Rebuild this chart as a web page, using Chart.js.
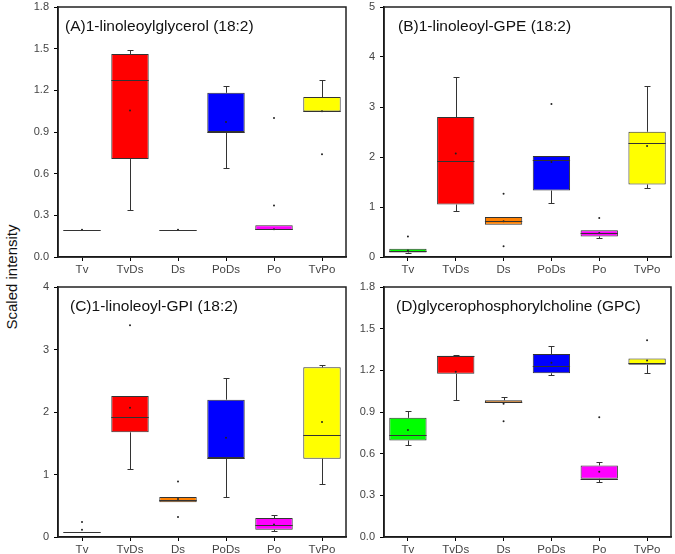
<!DOCTYPE html>
<html>
<head>
<meta charset="utf-8">
<script src="https://cdn.jsdelivr.net/npm/chart.js@4.4.0/dist/chart.umd.min.js"></script>
<style>
body{margin:0;background:#fff;width:675px;height:554px;position:relative;overflow:hidden;font-family:Arial,"Liberation Sans",sans-serif;}
canvas{position:absolute;}
#ylab{position:absolute;left:11px;top:277px;transform:translate(-50%,-50%) rotate(-90deg);font-size:15px;white-space:nowrap;color:#111;}
</style>
</head>
<body>
<div id="ylab">Scaled intensity</div>
<canvas id="cA" width="332" height="280" style="left:18px;top:0"></canvas>
<canvas id="cB" width="325" height="280" style="left:350px;top:0"></canvas>
<canvas id="cC" width="332" height="274" style="left:18px;top:280px"></canvas>
<canvas id="cD" width="325" height="274" style="left:350px;top:280px"></canvas>
<script>
const groups = ["Tv", "TvDs", "Ds", "PoDs", "Po", "TvPo"];
const boxColors = ["#00ff00", "#ff0000", "#ff8000", "#0000ff", "#ff00ff", "#ffff00"];

// (A) 1-linoleoylglycerol
const aQ1   = [0.195, 0.705, 0.195, 0.900, 0.195, 1.048];
const aMed  = [0.195, 1.273, 0.195, 0.900, 0.200, 1.050];
const aQ3   = [0.195, 1.462, 0.195, 1.182, 0.228, 1.152];
const aLow  = [null, 0.340, null, 0.640, null, null];
const aHigh = [null, 1.490, null, 1.228, null, 1.273];
const aMean = [0.197, 1.055, 0.197, 0.972, 0.200, 1.050];
const aOut  = [[], [], [], [], [1.0, 0.37], [0.74]];

// (B) 1-linoleoyl-GPE
const bQ1   = [0.090, 1.050, 0.645, 1.330, 0.410, 1.450];
const bMed  = [0.130, 1.930, 0.720, 1.940, 0.480, 2.280];
const bQ3   = [0.165, 2.800, 0.800, 2.020, 0.535, 2.505];
const bLow  = [0.080, 0.930, null, 1.090, 0.390, 1.385];
const bHigh = [null, 3.600, null, null, null, 3.410];
const bMean = [0.130, 2.070, 0.715, 1.900, 0.480, 2.220];
const bOut  = [[0.41], [], [1.265, 0.213], [3.06], [0.78], []];

// (C) 1-linoleoyl-GPI
const cQ1   = [0.085, 1.675, 0.555, 1.264, 0.117, 1.253];
const cMed  = [0.085, 1.925, 0.600, 1.264, 0.190, 1.637];
const cQ3   = [0.085, 2.256, 0.640, 2.197, 0.304, 2.715];
const cLow  = [null, 1.093, null, 0.640, 0.090, 0.848];
const cHigh = [null, null, null, 2.540, 0.350, 2.747];
const cMean = [0.117, 2.070, 0.610, 1.590, 0.200, 1.840];
const cOut  = [[0.24], [3.387], [0.89, 0.32], [], [], []];

// (D) glycerophosphorylcholine
const dQ1   = [0.695, 1.175, 0.967, 1.179, 0.419, 1.241];
const dMed  = [0.738, 1.305, 0.975, 1.229, 0.420, 1.250];
const dQ3   = [0.858, 1.305, 0.985, 1.318, 0.515, 1.285];
const dLow  = [0.661, 0.987, null, 1.165, 0.395, 1.179];
const dHigh = [0.906, 1.310, 1.006, 1.373, 0.540, null];
const dMean = [0.771, 1.190, 0.960, 1.255, 0.470, 1.270];
const dOut  = [[], [], [0.834], [], [0.863], [1.416]];

function makePanel(id, title, titleDx, yMax, step, dec, q1, med, q3, lo, hi, mean, outl, yW, xH) {
  const boxes = q1.map((v, i) => [v, q3[i]]);
  const pts = [];
  mean.forEach((v, i) => pts.push({x: groups[i], y: v}));
  outl.forEach((arr, i) => arr.forEach(v => pts.push({x: groups[i], y: v})));

  const boxPlugin = {
    id: "boxExtras",
    afterDatasetsDraw(chart) {
      const ctx = chart.ctx;
      const xs = chart.scales.x, ys = chart.scales.y;
      const bars = chart.getDatasetMeta(0).data;
      ctx.save();
      ctx.strokeStyle = "#333";
      ctx.lineWidth = 1;
      bars.forEach((bar, i) => {
        const cx = Math.round(xs.getPixelForValue(i)) + 0.5;
        const half = bar.width / 2;
        // whiskers with caps
        [[lo[i], q1[i]], [hi[i], q3[i]]].forEach(([w, edge]) => {
          if (w === null) return;
          const yw = Math.round(ys.getPixelForValue(w)) + 0.5;
          const ye = ys.getPixelForValue(edge);
          ctx.beginPath();
          ctx.moveTo(cx, ye);
          ctx.lineTo(cx, yw);
          ctx.moveTo(cx - 3, yw);
          ctx.lineTo(cx + 3, yw);
          ctx.stroke();
        });
        // median
        const ym = Math.round(ys.getPixelForValue(med[i])) + 0.5;
        ctx.beginPath();
        ctx.moveTo(bar.x - half, ym);
        ctx.lineTo(bar.x + half, ym);
        ctx.stroke();
      });
      // frame
      const a = chart.chartArea;
      ctx.strokeStyle = "#222";
      ctx.lineWidth = 1.5;
      ctx.strokeRect(a.left, a.top, a.right - a.left, a.bottom - a.top);
      // panel title
      ctx.fillStyle = "#111";
      ctx.font = "15.5px Arial, 'Liberation Sans', sans-serif";
      ctx.textBaseline = "middle";
      ctx.fillText(title, a.left + titleDx, a.top + 20);
      ctx.restore();
    }
  };

  return new Chart(document.getElementById(id), {
    type: "bar",
    data: {
      labels: groups,
      datasets: [
        {
          type: "bar",
          data: boxes,
          backgroundColor: boxColors,
          borderColor: "#333",
          borderWidth: 1,
          borderSkipped: false,
          categoryPercentage: 0.78,
          barPercentage: 1,
          order: 2
        },
        {
          type: "scatter",
          data: pts,
          pointRadius: 1,
          pointBackgroundColor: "#222",
          pointBorderWidth: 0,
          order: 1
        }
      ]
    },
    options: {
      responsive: false,
      animation: false,
      layout: {padding: {top: 7, right: 3, left: 0, bottom: 0}},
      plugins: {legend: {display: false}, tooltip: {enabled: false}},
      scales: {
        x: {
          type: "category",
          offset: true,
          grid: {display: true, drawOnChartArea: false, offset: false, tickLength: 4, color: "#000"},
          border: {color: "#000", width: 1.5},
          ticks: {color: "#444", font: {size: 11.5, family: "Arial"}, padding: 2, maxRotation: 0},
          afterFit: s => { s.height = xH; s.paddingLeft = 0; s.paddingRight = 0; }
        },
        y: {
          min: 0,
          max: yMax,
          grid: {display: true, drawOnChartArea: false, tickLength: 4, color: "#000"},
          border: {color: "#000", width: 1.5},
          ticks: {stepSize: step, color: "#444", font: {size: 11, family: "Arial"}, padding: 5,
                  callback: v => Number(v).toFixed(dec)},
          afterFit: s => { s.width = yW; s.paddingTop = 0; s.paddingBottom = 0; }
        }
      }
    },
    plugins: [boxPlugin]
  });
}

makePanel("cA", "(A)1-linoleoylglycerol (18:2)", 7, 1.8, 0.3, 1, aQ1, aMed, aQ3, aLow, aHigh, aMean, aOut, 40, 23);
makePanel("cB", "(B)1-linoleoyl-GPE (18:2)", 14, 5, 1, 0, bQ1, bMed, bQ3, bLow, bHigh, bMean, bOut, 34, 23);
makePanel("cC", "(C)1-linoleoyl-GPI (18:2)", 12, 4, 1, 0, cQ1, cMed, cQ3, cLow, cHigh, cMean, cOut, 40, 17);
makePanel("cD", "(D)glycerophosphorylcholine (GPC)", 12, 1.8, 0.3, 1, dQ1, dMed, dQ3, dLow, dHigh, dMean, dOut, 34, 17);
</script>
</body>
</html>
